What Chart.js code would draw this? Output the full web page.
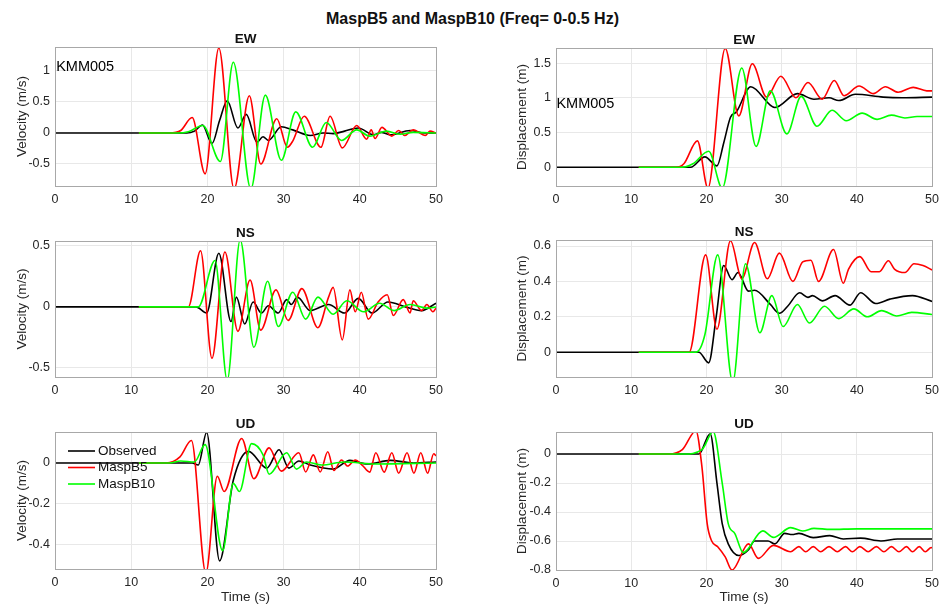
<!DOCTYPE html>
<html>
<head>
<meta charset="utf-8">
<script src="https://cdn.jsdelivr.net/npm/chart.js@4.4.1/dist/chart.umd.min.js"></script>
<style>
  body { margin: 0; background: #fff; width: 945px; height: 608px; position: relative; overflow: hidden;
         font-family: "Liberation Sans", Arial, sans-serif; }
  #title { position: absolute; left: 0; top: 10px; width: 945px; text-align: center;
           font-weight: bold; font-size: 16px; color: #111; }
  canvas { position: absolute; }
</style>
</head>
<body>
<div id="title">MaspB5 and MaspB10 (Freq= 0-0.5 Hz)</div>
<script>
// time axis
const timeTicks = [0, 10, 20, 30, 40, 50];

// EW velocity (m/s) : [time, value]
const ewVelObs = [[0,0],[17.3,0],[18.3,0.03],[19.35,0.13],[20.6,-0.17],[21.6,0.2],[22.6,0.52],[24.0,0.08],[25.1,0.3],[26.5,-0.15],[27.3,-0.06],[28.0,-0.12],[29.7,0.1],[31.2,0.05],[33.5,-0.04],[35.2,0.0],[36.5,-0.01],[38.0,0.03],[39.8,0.08],[41.8,-0.03],[42.8,0.01],[44.0,-0.03],[46.6,0.04],[48.5,0.0],[50,0.0]];
const ewVelB5 = [[11,0],[15,0],[16.5,0.04],[18.0,0.25],[19.7,-0.66],[21.5,1.37],[23.5,-0.9],[25.5,0.6],[27.0,-0.5],[29.1,0.23],[30.5,-0.23],[31.2,-0.13],[32.7,0.27],[34.9,-0.23],[36.1,0.27],[37.7,-0.24],[39.6,0.12],[40.9,-0.1],[41.5,0.05],[42.0,-0.09],[42.9,0.09],[44.2,-0.05],[45.1,0.04],[45.9,-0.04],[47.0,0.05],[48.6,-0.04],[49.2,0.03],[50,0]];
const ewVelB10 = [[11,0],[16,0],[17.5,0.02],[19.4,0.12],[21.7,-0.46],[23.4,1.14],[25.7,-0.9],[27.6,0.61],[29.7,-0.44],[31.6,0.34],[33.8,-0.23],[35.6,0.17],[37.6,-0.12],[39.6,0.05],[41.3,-0.05],[43.5,0.03],[45.3,-0.02],[47,0.01],[50,0]];
const ewVelTicks = [-0.5, 0, 0.5, 1];

// EW displacement (m)
const ewDispObs = [[0,0],[17.9,0],[19.8,0.15],[21.4,0.02],[22.3,0.35],[23.2,0.72],[24.0,0.8],[25.9,1.16],[29.1,0.86],[32.1,1.06],[34.3,0.98],[36.3,1.0],[37.6,0.96],[39.8,1.05],[43.5,1.01],[46,1.0],[50,1.01]];
const ewDispB5 = [[11,0],[15.9,0],[17,0.05],[18.8,0.38],[20.2,-0.3],[22.5,1.71],[24.3,0.74],[26.1,1.49],[28.0,1.01],[29.9,1.31],[31.9,1.0],[33.5,1.22],[35.4,0.98],[37.0,1.25],[38.3,1.03],[40.3,1.17],[42.2,1.06],[43.8,1.16],[45.5,1.08],[47.5,1.15],[49.3,1.10],[50,1.10]];
const ewDispB10 = [[11,0],[16.8,0],[18.2,0.05],[20.3,0.23],[22.1,-0.3],[24.7,1.43],[26.6,0.30],[28.5,1.10],[30.7,0.48],[32.6,1.02],[34.7,0.59],[36.7,0.82],[38.6,0.67],[40.7,0.78],[42.7,0.69],[44.6,0.75],[46.4,0.71],[48,0.73],[50,0.73]];
const ewDispTicks = [0, 0.5, 1, 1.5];

// NS velocity (m/s)
const nsVelObs = [[0,0],[18.5,0],[19.9,-0.05],[21.5,0.44],[23.1,-0.12],[23.8,0.08],[24.9,-0.14],[26.0,0.04],[27.1,-0.05],[28.0,0.01],[29.3,-0.05],[30.4,0.06],[31.0,0.02],[31.8,0.08],[33.5,-0.03],[35.9,0.02],[38.0,-0.05],[39.8,0.07],[41.6,-0.05],[43.7,0.04],[46,0.0],[48.1,-0.03],[50,0.03]];
const nsVelB5 = [[11,0],[17.5,0],[19.1,0.46],[20.6,-0.42],[22.3,0.45],[24.0,-0.2],[25.6,0.22],[27.0,-0.19],[29.0,0.14],[30.6,-0.11],[32.4,0.15],[34.5,-0.17],[35.9,0.08],[36.5,0.16],[37.7,-0.27],[38.7,0.14],[39.4,-0.04],[40.2,0.12],[41.1,-0.1],[42.4,0.04],[43.6,0.1],[44.4,-0.07],[45.7,0.06],[46.6,-0.05],[47.0,0.05],[48.1,-0.03],[48.8,0.02],[49.6,-0.04],[50,-0.01]];
const nsVelB10 = [[11,0],[18.8,0],[21.0,0.38],[22.6,-0.6],[24.3,0.55],[26.1,-0.33],[27.9,0.21],[29.3,-0.16],[31.2,0.12],[32.9,-0.1],[34.5,0.08],[36.5,-0.06],[38.3,0.05],[40.5,-0.04],[42.6,0.03],[44.5,-0.03],[46.6,0.02],[48.8,-0.01],[50,0]];
const nsVelTicks = [-0.5, 0, 0.5];

// NS displacement (m)
const nsDispObs = [[0,0],[19,0],[20.3,-0.06],[21.3,0.2],[22.3,0.49],[23.4,0.41],[24.2,0.45],[25.6,0.345],[26.4,0.35],[28.5,0.27],[29.7,0.22],[30.8,0.26],[32.4,0.336],[33.5,0.31],[34.1,0.32],[35.4,0.29],[37.1,0.32],[39.1,0.266],[40.5,0.336],[42.5,0.275],[44.4,0.3],[47.4,0.32],[50,0.287]];
const nsDispB5 = [[11,0],[17.7,0],[19.9,0.55],[21.4,0.13],[23.2,0.63],[24.7,0.415],[26.4,0.62],[28.1,0.415],[29.7,0.56],[31.5,0.40],[32.8,0.51],[33.9,0.52],[34.9,0.40],[36.9,0.58],[38.2,0.39],[38.9,0.47],[40.4,0.54],[41.9,0.455],[43.0,0.455],[44.2,0.517],[45.0,0.47],[46.4,0.45],[47.6,0.5],[48.8,0.49],[50,0.465]];
const nsDispB10 = [[11,0],[18.6,0],[19.8,0.1],[21.5,0.55],[23.5,-0.17],[25.2,0.50],[27.1,0.11],[28.7,0.32],[30.2,0.145],[32.1,0.27],[33.7,0.165],[35.7,0.26],[37.6,0.19],[39.6,0.245],[41.4,0.2],[43.3,0.235],[45.3,0.205],[47.3,0.225],[50,0.213]];
const nsDispTicks = [0, 0.2, 0.4, 0.6];

// UD velocity (m/s)
const udVelObs = [[0,0],[18.0,0],[18.8,-0.01],[19.9,0.15],[21.6,-0.48],[23.4,-0.085],[25.4,0.057],[27.8,-0.025],[29.4,0.065],[30.7,-0.025],[32,0.01],[33.5,-0.01],[36.5,-0.03],[38.7,0.013],[41,-0.005],[44,0.013],[47,0],[50,0.005]];
const udVelB5 = [[11,0],[14.6,0],[16.4,0.03],[17.9,0.11],[19.8,-0.54],[21.3,-0.065],[22.2,-0.14],[24.5,0.12],[26.1,-0.077],[28.1,0.074],[29.7,-0.04],[32.0,0.05],[32.9,-0.044],[33.9,0.04],[34.8,-0.044],[35.8,0.055],[36.6,-0.037],[37.6,0.015],[38.4,-0.015],[39.4,0.015],[40.3,-0.01],[41.3,-0.045],[42.1,0.05],[43.2,-0.045],[44.2,0.05],[45.1,-0.05],[46.2,0.05],[47.1,-0.05],[48.0,0.05],[48.9,-0.05],[49.7,0.045],[50,0.035]];
const udVelB10 = [[11,0],[15,0],[16.5,0.01],[18.3,0.005],[19.7,0.09],[22.0,-0.43],[23.4,-0.1],[24.2,-0.14],[25.8,0.095],[27.3,0.04],[28.1,-0.055],[30.4,0.05],[31.7,-0.03],[33,0.005],[35,-0.01],[38,0.005],[42,-0.005],[50,0]];
const udVelTicks = [-0.4, -0.2, 0];

// UD displacement (m)
const udDispObs = [[0,0],[19,0],[20.5,0.14],[21.4,-0.2],[22.1,-0.48],[22.9,-0.62],[24.3,-0.70],[25.6,-0.66],[26.4,-0.6],[28.2,-0.6],[29.1,-0.62],[30.4,-0.547],[31.4,-0.555],[32.3,-0.547],[34.2,-0.577],[36.4,-0.563],[38.2,-0.586],[40.5,-0.58],[43.2,-0.6],[45.4,-0.586],[50,-0.586]];
const udDispB5 = [[11,0],[15,0],[16.8,0.03],[18.6,0.16],[19.4,-0.087],[20.1,-0.48],[20.7,-0.6],[21.5,-0.64],[22.5,-0.71],[23.4,-0.8],[25.6,-0.62],[26.9,-0.72],[28.9,-0.63],[31.2,-0.674],[32.3,-0.639],[33.2,-0.674],[34.2,-0.639],[35.2,-0.674],[36.3,-0.639],[37.4,-0.674],[38.5,-0.639],[39.4,-0.674],[40.4,-0.639],[41.5,-0.674],[42.6,-0.639],[43.6,-0.674],[44.6,-0.639],[45.6,-0.674],[46.6,-0.639],[47.4,-0.674],[48.3,-0.639],[49.1,-0.674],[49.9,-0.645],[50,-0.648]];
const udDispB10 = [[11,0],[17,0],[19.4,0.03],[20.9,0.155],[22.1,-0.2],[22.9,-0.48],[23.8,-0.55],[24.9,-0.68],[27.5,-0.53],[28.9,-0.575],[31.2,-0.508],[32.8,-0.531],[34.3,-0.513],[36.5,-0.52],[40,-0.516],[50,-0.516]];
const udDispTicks = [-0.8, -0.6, -0.4, -0.2, 0];

const seriesNames = ['Observed', 'MaspB5', 'MaspB10'];
const seriesColors = ['#000000', '#ff0000', '#00ff00'];

const FONT = '"Liberation Sans", Arial, Helvetica, sans-serif';

// column geometry (canvas left, width, left padding, y-axis width, right padding)
const cols = [
  { left: 0, width: 470, padL: 10, yw: 45, padR: 34 },
  { left: 470, width: 475, padL: 40, yw: 46, padR: 9 }
];

const panels = [
  { col: 0, top: 47, bottom: 186, title: 'EW', yLabel: 'Velocity (m/s)', yMin: -0.855, yMax: 1.387, ticks: ewVelTicks, series: [ewVelObs, ewVelB5, ewVelB10], note: [0.15, 1.06] },
  { col: 1, top: 48, bottom: 186, title: 'EW', yLabel: 'Displacement (m)', yMin: -0.27, yMax: 1.717, ticks: ewDispTicks, series: [ewDispObs, ewDispB5, ewDispB10], note: [0.05, 0.91] },
  { col: 0, top: 241, bottom: 377, title: 'NS', yLabel: 'Velocity (m/s)', yMin: -0.574, yMax: 0.54, ticks: nsVelTicks, series: [nsVelObs, nsVelB5, nsVelB10] },
  { col: 1, top: 240, bottom: 377, title: 'NS', yLabel: 'Displacement (m)', yMin: -0.14, yMax: 0.634, ticks: nsDispTicks, series: [nsDispObs, nsDispB5, nsDispB10] },
  { col: 0, top: 432, bottom: 569, title: 'UD', yLabel: 'Velocity (m/s)', yMin: -0.52, yMax: 0.152, ticks: udVelTicks, series: [udVelObs, udVelB5, udVelB10], legend: true, xLabel: 'Time (s)' },
  { col: 1, top: 432, bottom: 570, title: 'UD', yLabel: 'Displacement (m)', yMin: -0.8, yMax: 0.152, ticks: udDispTicks, series: [udDispObs, udDispB5, udDispB10], xLabel: 'Time (s)' }
];

const decoPlugin = {
  id: 'deco',
  afterDatasetsDraw(chart, args, opts) {
    const ctx = chart.ctx, a = chart.chartArea;
    ctx.save();
    ctx.strokeStyle = '#a8a8a8';
    ctx.lineWidth = 1;
    ctx.strokeRect(Math.round(a.left) + 0.5, Math.round(a.top) + 0.5, Math.round(a.right - a.left), Math.round(a.bottom - a.top));

    ctx.fillStyle = '#111';
    ctx.font = 'bold 13.5px ' + FONT;
    ctx.textAlign = 'center';
    ctx.textBaseline = 'alphabetic';
    ctx.fillText(opts.title, (a.left + a.right) / 2, a.top - 4);

    if (opts.note) {
      ctx.font = '14.5px ' + FONT;
      ctx.textAlign = 'left';
      ctx.textBaseline = 'middle';
      ctx.fillStyle = '#000';
      ctx.fillText('KMM005', chart.scales.x.getPixelForValue(opts.note[0]), chart.scales.y.getPixelForValue(opts.note[1]));
    }

    if (opts.legend) {
      ctx.font = '13.5px ' + FONT;
      ctx.textAlign = 'left';
      ctx.textBaseline = 'middle';
      seriesNames.forEach((name, i) => {
        const y = a.top + 19 + i * 16.5;
        ctx.strokeStyle = seriesColors[i];
        ctx.lineWidth = 1.6;
        ctx.beginPath();
        ctx.moveTo(a.left + 13, y);
        ctx.lineTo(a.left + 40, y);
        ctx.stroke();
        ctx.fillStyle = '#111';
        ctx.fillText(name, a.left + 43, y);
      });
    }
    ctx.restore();
  }
};

panels.forEach(p => {
  const c = cols[p.col];
  const padTop = 30;
  const xh = p.xLabel ? (608 - p.bottom) : 24;
  const canvas = document.createElement('canvas');
  canvas.width = c.width;
  canvas.height = padTop + (p.bottom - p.top) + xh;
  canvas.style.left = c.left + 'px';
  canvas.style.top = (p.top - padTop) + 'px';
  canvas.style.width = canvas.width + 'px';
  canvas.style.height = canvas.height + 'px';
  document.body.appendChild(canvas);

  // green drawn on top, black underneath
  const order = [2, 1, 0];
  const datasets = order.map(i => ({
    label: seriesNames[i],
    data: p.series[i],
    borderColor: seriesColors[i],
    borderWidth: 1.6,
    pointRadius: 0,
    fill: false,
    cubicInterpolationMode: 'monotone'
  }));

  new Chart(canvas, {
    type: 'line',
    data: { datasets },
    options: {
      responsive: false,
      animation: false,
      events: [],
      layout: { padding: { top: padTop, left: c.padL, right: c.padR, bottom: 0 } },
      plugins: {
        legend: { display: false },
        tooltip: { enabled: false },
        deco: { title: p.title, note: p.note, legend: p.legend }
      },
      scales: {
        x: {
          type: 'linear', min: 0, max: 50,
          afterBuildTicks: s => { s.ticks = timeTicks.map(v => ({ value: v })); },
          afterFit: s => { s.height = xh; },
          grid: { color: '#e8e8e8', drawTicks: false },
          border: { display: false },
          ticks: { padding: 6, color: '#262626', font: { family: FONT, size: 12.5 }, maxRotation: 0, callback: v => String(v) },
          title: { display: !!p.xLabel, text: p.xLabel || '', color: '#262626', font: { family: FONT, size: 13.5 }, padding: { top: 0, bottom: 3 } }
        },
        y: {
          type: 'linear', min: p.yMin, max: p.yMax,
          afterBuildTicks: s => { s.ticks = p.ticks.map(v => ({ value: v })); },
          afterFit: s => { s.width = c.yw; },
          grid: { color: '#e8e8e8', drawTicks: false },
          border: { display: false },
          ticks: { padding: 5, color: '#262626', font: { family: FONT, size: 12.5 }, callback: v => String(v) },
          title: { display: true, text: p.yLabel, color: '#262626', font: { family: FONT, size: 13.5 }, padding: { top: 4, bottom: 4 } }
        }
      }
    },
    plugins: [decoPlugin]
  });
});
</script>
</body>
</html>
